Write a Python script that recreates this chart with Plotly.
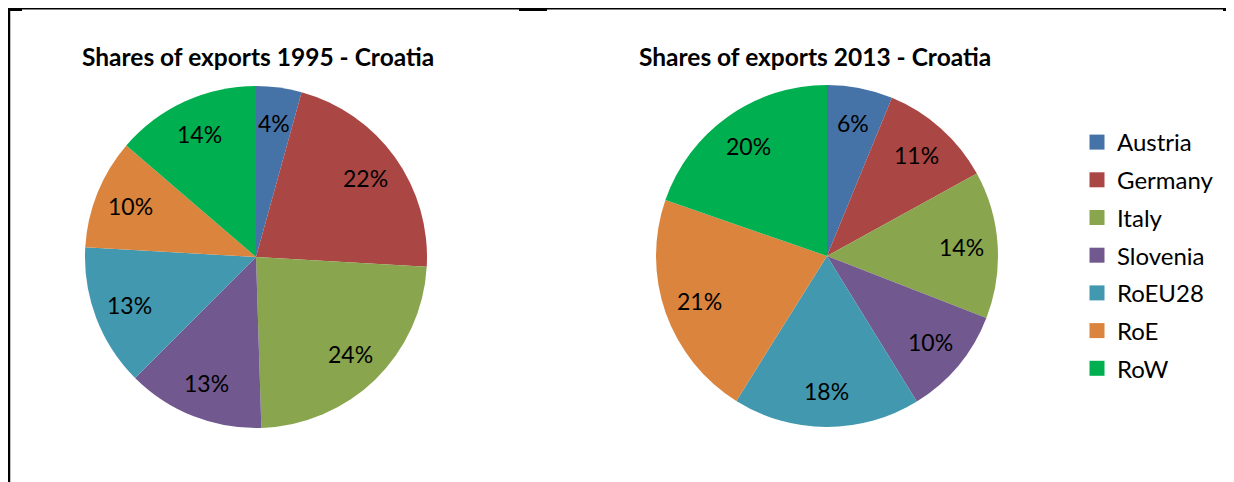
import numpy as np
import plotly.graph_objects as go

categories = ["Austria", "Germany", "Italy", "Slovenia", "RoEU28", "RoE", "RoW"]
shares_1995 = [4.3, 21.6, 23.6, 13.0, 13.4, 10.4, 13.7]
shares_2013 = [6.2, 10.8, 13.9, 10.3, 17.7, 21.4, 19.7]
colors = ["#4572A7", "#AA4643", "#89A54E", "#71588F", "#4198AF", "#DB843D", "#00B050"]
titles = ["Shares of exports 1995 - Croatia", "Shares of exports 2013 - Croatia"]

# page body has an 8px margin, so the figure is drawn at (8, 8)
W, H = 1226, 474
FONT = "Lato"
LABEL_R = 0.79  # label distance from centre, as a fraction of the radius

# pie boxes in pixels (x0, x1, y0_top, y1_bottom)
boxes = [(77, 419, 78, 420), (647, 991, 77, 419)]
title_x = [250, 807]

fig = go.Figure()

for values, name, (x0, x1, yt, yb), tx, title in zip(
        [shares_1995, shares_2013], ["1995", "2013"], boxes, title_x, titles):
    fig.add_trace(go.Pie(
        values=values, labels=categories, name=name,
        sort=False, direction="clockwise", rotation=0,
        marker=dict(colors=colors, line=dict(width=0)),
        textinfo="none", hoverinfo="label+percent", showlegend=False,
        domain=dict(x=[x0 / W, x1 / W], y=[1 - yb / H, 1 - yt / H]),
    ))
    # percentage labels placed at the middle angle of each slice
    v = np.array(values, dtype=float)
    frac = v / v.sum()
    cum = np.cumsum(frac)
    mid = (cum - frac / 2) * 2 * np.pi
    cx, cy = (x0 + x1) / 2, (yt + yb) / 2
    r = min(x1 - x0, yb - yt) / 2
    for f, a in zip(frac, mid):
        px = cx + LABEL_R * r * np.sin(a)
        py = cy - LABEL_R * r * np.cos(a)
        fig.add_annotation(text="%d%%" % round(f * 100), x=px / W, y=1 - py / H,
                           xref="paper", yref="paper", showarrow=False,
                           xanchor="center", yanchor="middle",
                           font=dict(family=FONT, size=23, color="black"))
    fig.add_annotation(text="<b>%s</b>" % title, x=tx / W, y=1 - 49 / H,
                       xref="paper", yref="paper", showarrow=False,
                       xanchor="center", yanchor="middle",
                       font=dict(family=FONT, size=24.5, color="black"))

# legend entries
for cat, col in zip(categories, colors):
    fig.add_trace(go.Scatter(x=[None], y=[None], mode="markers", name=cat, legendgroup=cat,
                             marker=dict(symbol="square", size=15, color=col), showlegend=True,
                             hoverinfo="skip"))

fig.update_xaxes(visible=False)
fig.update_yaxes(visible=False)

# frame lines
fig.add_shape(type="line", xref="paper", yref="paper", x0=0, x1=1, y0=1 - 0.75 / H, y1=1 - 0.75 / H,
              line=dict(color="black", width=1.5))
fig.add_shape(type="line", xref="paper", yref="paper", x0=1 / W, x1=1 / W, y0=0, y1=1,
              line=dict(color="black", width=2.5))
for a, b in [(0, 14), (511, 539), (1215, 1226)]:
    fig.add_shape(type="line", xref="paper", yref="paper", x0=a / W, x1=b / W, y0=1 - 1.5 / H, y1=1 - 1.5 / H,
                  line=dict(color="black", width=3))

fig.update_layout(
    width=W, height=H,
    margin=dict(l=0, r=0, t=0, b=0),
    paper_bgcolor="white", plot_bgcolor="white",
    font=dict(family=FONT, color="black"),
    legend=dict(x=1069 / W, y=1 - 112 / H, xanchor="left", yanchor="top",
                font=dict(family=FONT, size=24, color="black"),
                tracegroupgap=3.5, bgcolor="rgba(0,0,0,0)"),
)

fig.write_html("out.html")
